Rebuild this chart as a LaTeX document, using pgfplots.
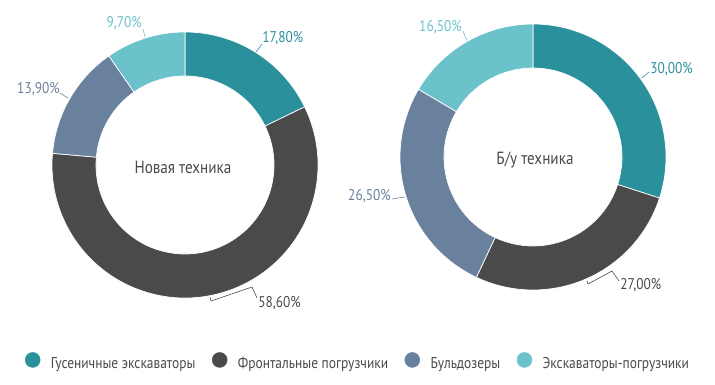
\documentclass[border=0pt]{standalone}
\usepackage{pgfplots}
\pgfplotsset{compat=1.18}
\usepackage{pgfplotstable}
\usepackage{fontspec}
\setmainfont{PT Sans}[FakeStretch=0.86]
\usetikzlibrary{calc}
\definecolor{cteal}{HTML}{2A909C}
\definecolor{cdark}{HTML}{4A4A4A}
\definecolor{cslate}{HTML}{6A819E}
\definecolor{ccyan}{HTML}{6BC2CA}
\definecolor{ctext}{HTML}{4A4A4A}

% shares, clockwise from 12 o'clock
\pgfplotstableread{
val
17.8
58.6
13.9
9.7
}\tabnew
\pgfplotstableread{
val
30.0
27.0
26.5
16.5
}\tabused
\pgfplotstablecreatecol[expr accum={\pgfmathaccuma+\thisrow{val}}{0}]{cum}\tabnew
\pgfplotstablecreatecol[expr accum={\pgfmathaccuma+\thisrow{val}}{0}]{cum}\tabused

\newcommand\donut[3]{%
  \foreach \i/\c in {0/cteal,1/cdark,2/cslate,3/ccyan}{%
    \pgfplotstablegetelem{\i}{cum}\of#1\pgfmathsetmacro\ae{90-3.6*\pgfplotsretval}%
    \pgfplotstablegetelem{\i}{val}\of#1\pgfmathsetmacro\as{\ae+3.6*\pgfplotsretval}%
    \fill[\c, draw=white, line width=0.7bp]
      ($(axis cs:#2,#3)+(\as:133bp)$) arc[start angle=\as, end angle=\ae, radius=133bp]
      -- ($(axis cs:#2,#3)+(\ae:89bp)$) arc[start angle=\ae, end angle=\as, radius=89bp] -- cycle;
  }}

\begin{document}
\begin{tikzpicture}
\begin{axis}[x=1bp, y=1bp, xmin=0, xmax=715, ymin=0, ymax=384,
  hide axis, scale only axis, clip=false,
  legend columns=4,
  legend style={at={(axis cs:357,23)}, anchor=center, draw=none, fill=none,
    font=\fontsize{15.7}{18}\selectfont, text=ctext,
    nodes={inner sep=0pt},
    /tikz/every odd column/.append style={column sep=10.5bp},
    /tikz/every even column/.append style={column sep=16.5bp}},
  ]
\pgfplotsextra{\donut{\tabnew}{185}{219}\donut{\tabused}{533}{227}}

% centre titles
\node[anchor=base, text=ctext, font=\fontsize{17.7}{20}\selectfont] at (axis cs:183,211) {Новая техника};
\node[anchor=base, text=ctext, font=\fontsize{17.7}{20}\selectfont] at (axis cs:535,220) {Б/у техника};

% labels left
\begin{scope}[font=\fontsize{15.6}{18}\selectfont, line width=0.6bp]
\draw[cteal] (axis cs:256,332) -- (axis cs:262,340);
\node[anchor=base west, text=cteal, inner sep=0pt] at (axis cs:262,341) {17,80\%};
\draw[cdark] (axis cs:210,87) -- (axis cs:211,83) -- (axis cs:252,97) -- (axis cs:257,86);
\node[anchor=base west, text=cdark, inner sep=0pt] at (axis cs:258,77) {58,60\%};
\draw[cslate] (axis cs:68,286) -- (axis cs:60,291);
\node[anchor=base east, text=cslate, inner sep=0pt] at (axis cs:60,291) {13,90\%};
\draw[ccyan] (axis cs:145,347) -- (axis cs:143,355);
\node[anchor=base east, text=ccyan, inner sep=0pt] at (axis cs:142,356) {9,70\%};
% labels right
\draw[cteal] (axis cs:642,306) -- (axis cs:649,312);
\node[anchor=base west, text=cteal, inner sep=0pt] at (axis cs:650,311) {30,00\%};
\draw[cdark] (axis cs:587,103) -- (axis cs:588,100) -- (axis cs:612,113) -- (axis cs:619,103);
\node[anchor=base west, text=cdark, inner sep=0pt] at (axis cs:620,95) {27,00\%};
\draw[cslate] (axis cs:405,187) -- (axis cs:392,185);
\node[anchor=base east, text=cslate, inner sep=0pt] at (axis cs:391,184) {26,50\%};
\draw[ccyan] (axis cs:467,343) -- (axis cs:463,353);
\node[anchor=base east, text=ccyan, inner sep=0pt] at (axis cs:462,352) {16,50\%};
\end{scope}

\addlegendimage{legend image code/.code={\fill[cteal] (7.5bp,3.5bp) circle (7.5bp);}}
\addlegendentry{Гусеничные экскаваторы}
\addlegendimage{legend image code/.code={\fill[cdark] (7.5bp,3.5bp) circle (7.5bp);}}
\addlegendentry{Фронтальные погрузчики}
\addlegendimage{legend image code/.code={\fill[cslate] (7.5bp,3.5bp) circle (7.5bp);}}
\addlegendentry{Бульдозеры}
\addlegendimage{legend image code/.code={\fill[ccyan] (7.5bp,3.5bp) circle (7.5bp);}}
\addlegendentry{Экскаваторы-погрузчики}
\end{axis}
\pgfresetboundingbox
\path (current axis.south west) rectangle (current axis.north east);
\end{tikzpicture}
\end{document}
